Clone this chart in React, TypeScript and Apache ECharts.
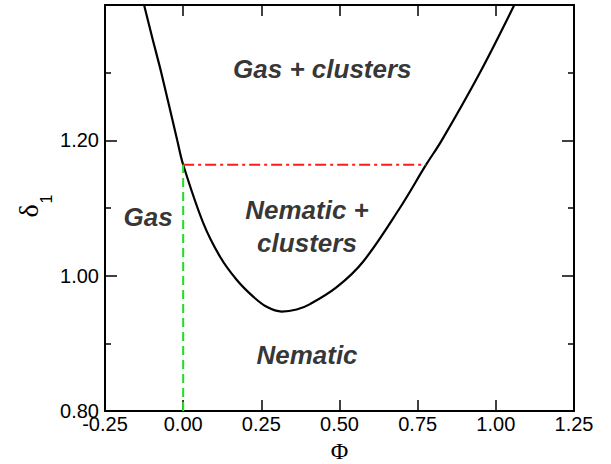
import React, { useEffect, useRef } from "react";
import * as echarts from "echarts";

// Phase boundary curve (Φ, δ1)
const curvePhi = [-0.125, -0.098, -0.070, -0.019, 0.0, 0.064, 0.118, 0.171, 0.224, 0.267, 0.315, 0.363, 0.406, 0.491, 0.576, 0.693, 0.777, 0.827, 0.949, 1.059];
const curveDelta = [1.400, 1.350, 1.300, 1.200, 1.164, 1.078, 1.028, 0.994, 0.969, 0.954, 0.947, 0.950, 0.958, 0.983, 1.021, 1.100, 1.164, 1.200, 1.300, 1.400];

// Red dash-dot tie line
const tiePhi = [0.0, 0.777];
const tieDelta = [1.164, 1.164];

// Green dashed vertical line
const vertPhi = [0.0, 0.0];
const vertDelta = [0.8, 1.164];

// Region labels
const regionNames = ["Gas + clusters", "Gas", "Nematic +\nclusters", "Nematic"];
const regionPhi = [0.445, -0.112, 0.396, 0.396];
const regionDelta = [1.305, 1.087, 1.073, 0.883];

const xTickMin = -0.25;
const xTickMax = 1.25;
const xTickStep = 0.25;
const yTickMin = 0.8;
const yTickMax = 1.4;
const yTickStep = 0.2;

export default function App() {
  const ref = useRef<HTMLDivElement>(null);
  useEffect(() => {
    document.body.style.margin = "0";
    if (!ref.current) return;
    const chart = echarts.init(ref.current, undefined, { renderer: "svg" });
    const axisLine = { show: true, onZero: false, lineStyle: { color: "#000", width: 2 } };
    const labelFont = { fontSize: 20, color: "#000", fontFamily: "Liberation Sans" };
    const xBase = {
      type: "value" as const,
      min: xTickMin,
      max: xTickMax,
      interval: xTickStep,
      splitLine: { show: false },
      axisLine,
    };
    const yBase = {
      type: "value" as const,
      min: yTickMin,
      max: yTickMax,
      interval: yTickStep,
      splitLine: { show: false },
      axisLine,
      minorTick: { show: true, splitNumber: 2, length: 6, lineStyle: { color: "#000", width: 1.5 } },
    };
    const option: any = {
      animation: false,
      grid: { left: 105, right: 37, top: 5, bottom: 53, containLabel: false, outerBoundsMode: "none" },
      xAxis: [
        {
          ...xBase,
          position: "bottom",
          axisTick: { show: true, inside: true, length: 11, lineStyle: { color: "#000", width: 1.5 } },
          axisLabel: { ...labelFont, margin: 3, formatter: (v: number) => v.toFixed(2) },
          name: "Φ",
          nameLocation: "middle",
          nameGap: 25,
          nameTextStyle: { fontFamily: "Liberation Serif", fontSize: 24, color: "#000" },
        },
        {
          ...xBase,
          position: "top",
          axisTick: { show: true, inside: true, length: 11, lineStyle: { color: "#000", width: 1.5 } },
          axisLabel: { show: false },
        },
      ],
      yAxis: [
        {
          ...yBase,
          position: "left",
          axisTick: { show: true, inside: true, length: 12, lineStyle: { color: "#000", width: 1.5 } },
          axisLabel: { ...labelFont, margin: 6, showMaxLabel: false, formatter: (v: number) => (Math.abs(v - yTickMax) < 1e-9 ? "" : v.toFixed(2)) },
        },
        {
          ...yBase,
          position: "right",
          axisTick: { show: true, inside: true, length: 12, lineStyle: { color: "#000", width: 1.5 } },
          axisLabel: { show: false },
        },
      ],
      graphic: [
        {
          type: "text",
          x: 28,
          y: 211,
          rotation: Math.PI / 2,
          style: { text: "δ", font: "28px 'Liberation Serif'", fill: "#000", textAlign: "center", textVerticalAlign: "middle" },
        },
        {
          type: "text",
          x: 46,
          y: 199,
          rotation: Math.PI / 2,
          style: { text: "1", font: "16px 'Liberation Sans'", fill: "#000", textAlign: "center", textVerticalAlign: "middle" },
        },
      ],
      series: [
        {
          type: "line",
          xAxisIndex: 0,
          yAxisIndex: 0,
          data: curvePhi.map((p, i) => [p, curveDelta[i]]),
          showSymbol: false,
          smooth: 0.35,
          lineStyle: { color: "#000", width: 2.2 },
          silent: true,
        },
        {
          type: "line",
          xAxisIndex: 0,
          yAxisIndex: 0,
          data: tiePhi.map((p, i) => [p, tieDelta[i]]),
          showSymbol: false,
          lineStyle: { color: "#ff1a1a", width: 2, type: [11, 4, 3, 4] },
          silent: true,
        },
        {
          type: "line",
          xAxisIndex: 0,
          yAxisIndex: 0,
          data: vertPhi.map((p, i) => [p, vertDelta[i]]),
          showSymbol: false,
          lineStyle: { color: "#1fe01f", width: 2, type: [9, 5] },
          silent: true,
        },
        {
          type: "scatter",
          xAxisIndex: 0,
          yAxisIndex: 0,
          symbolSize: 0,
          silent: true,
          data: regionNames.map((n, i) => ({ name: n, value: [regionPhi[i], regionDelta[i]] })),
          label: {
            show: true,
            position: "inside",
            formatter: (p: any) => p.name,
            fontSize: 26,
            fontWeight: "bold",
            fontStyle: "italic",
            fontFamily: "Liberation Sans",
            color: "#000",
            textBorderWidth: 0,
            textBorderColor: "transparent",
            lineHeight: 33,
            align: "center",
          },
        },
      ],
    };
    chart.setOption(option);
    return () => chart.dispose();
  }, []);
  return <div ref={ref} style={{ width: 611, height: 464 }} />;
}
